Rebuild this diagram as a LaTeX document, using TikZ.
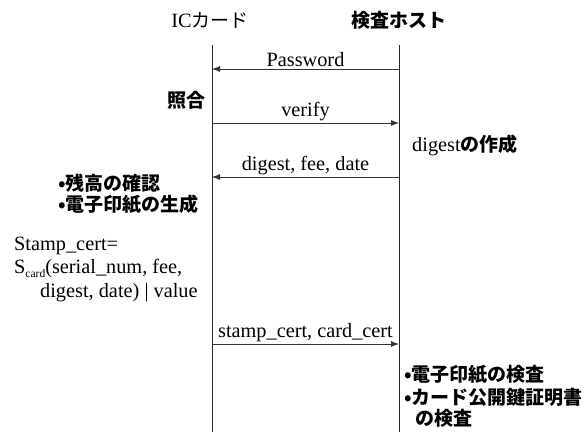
\documentclass[tikz,border=0pt]{standalone}
\usepackage{fontspec}
\setmainfont{Liberation Serif}
\newfontfamily\jp{Noto Sans CJK JP}
\usetikzlibrary{arrows.meta}
\begin{document}
\begin{tikzpicture}[x=1pt,y=-1pt,
  lat/.style={font=\fontsize{20.3}{22}\selectfont, inner sep=0pt},
  jpn/.style={font=\fontsize{19}{22}\selectfont\jp\bfseries, inner sep=0pt},
  life/.style={draw=black!85, line width=0.8pt},
  msg/.style={draw=black!80, line width=0.8pt, -{Latex[length=8pt,width=6pt]}},
  lbl/.style={lat, anchor=south, inner sep=2pt}]
\useasboundingbox (0,0) rectangle (585,432);
\fill[white] (0,0) rectangle (585,432);
% headers
\node[lat] (ic) at (210,20) {IC{\fontsize{19}{22}\selectfont\jp カード}};
\node[jpn] (host) at (399,20) {検査ホスト};
% lifelines
\coordinate (ictop) at (212,45);
\coordinate (icbot) at (212,432);
\coordinate (hosttop) at (399,45);
\coordinate (hostbot) at (399,432);
\draw[life] (ictop) -- (icbot);
\draw[life] (hosttop) -- (hostbot);
% messages
\coordinate (m1h) at (399,69);  \coordinate (m1c) at (212,69);
\coordinate (m2c) at (212,123); \coordinate (m2h) at (399,123);
\coordinate (m3h) at (399,177); \coordinate (m3c) at (212,177);
\coordinate (m4c) at (212,344); \coordinate (m4h) at (399,344);
\draw[msg] (m1h) -- node[lbl] (l1) {Password} (m1c);
\draw[msg] (m2c) -- node[lbl] (l2) {verify} (m2h);
\draw[msg] (m3h) -- node[lbl] (l3) {digest, fee, date} (m3c);
\draw[msg] (m4c) -- node[lbl] (l4) {stamp\_cert, card\_cert} (m4h);
% annotations
\node[jpn, anchor=east] (shogo) at (206,100) {照合};
\node[lat, anchor=west] (dig) at (412,145) {digest{\fontsize{19}{22}\selectfont\jp\bfseries の作成}};
\node[jpn, anchor=west] (b1) at (58,183) {\textbullet 残高の確認};
\node[jpn, anchor=west] (b2) at (58,204) {\textbullet 電子印紙の生成};
\node[lat, anchor=base west] (s1) at (14,250) {Stamp\_cert=};
\node[lat, anchor=base west] (s2) at (14,273) {S\raisebox{-0.22em}{\fontsize{11.5}{11.5}\selectfont card}(serial\_num, fee,};
\node[lat, anchor=base west] (s3) at (40,297) {digest, date) \textbar\ value};
\node[jpn, anchor=west] (r1) at (404,375) {\textbullet 電子印紙の検査};
\node[jpn, anchor=west] (r2) at (404,397) {\textbullet カード公開鍵証明書};
\node[jpn, anchor=west] (r3) at (415,418) {の検査};
\end{tikzpicture}
\end{document}
